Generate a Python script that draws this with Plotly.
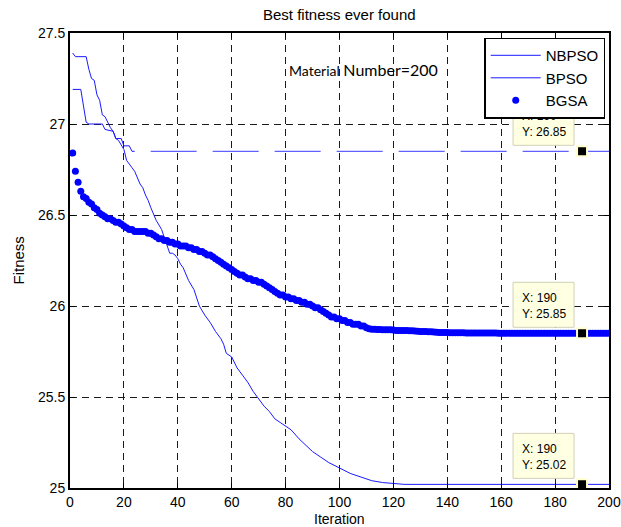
import plotly.graph_objects as go

# ---------------- data ----------------
iterations = list(range(1, 201))

bgsa = [
    26.84, 26.74, 26.68, 26.63, 26.60, 26.59, 26.57, 26.56, 26.54, 26.53,
    26.51, 26.50, 26.49, 26.48, 26.48, 26.47, 26.46, 26.46, 26.45, 26.44,
    26.43, 26.42, 26.42, 26.41, 26.41, 26.41, 26.41, 26.41, 26.40, 26.40,
    26.39, 26.38, 26.37, 26.37, 26.36, 26.36, 26.35, 26.35, 26.34, 26.34,
    26.33, 26.33, 26.33, 26.32, 26.32, 26.31, 26.31, 26.30, 26.30, 26.29,
    26.28, 26.28, 26.27, 26.26, 26.25, 26.24, 26.23, 26.22, 26.21, 26.20,
    26.19, 26.18, 26.17, 26.17, 26.16, 26.15, 26.15, 26.14, 26.14, 26.13,
    26.13, 26.12, 26.11, 26.10, 26.09, 26.08, 26.07, 26.06, 26.06, 26.05,
    26.05, 26.04, 26.04, 26.03, 26.03, 26.02, 26.02, 26.01, 26.01, 26.00,
    25.99, 25.99, 25.98, 25.97, 25.96, 25.95, 25.94, 25.94, 25.93, 25.93,
    25.92, 25.92, 25.91, 25.91, 25.90, 25.90, 25.90, 25.89, 25.89, 25.88,
    25.875, 25.872, 25.872, 25.871, 25.871, 25.870, 25.870, 25.870, 25.869, 25.868,
    25.866, 25.866, 25.865, 25.865, 25.865, 25.864, 25.864, 25.863, 25.861, 25.860,
    25.860, 25.860, 25.859, 25.858, 25.857, 25.856, 25.855, 25.854, 25.854, 25.854,
    25.853, 25.853, 25.853, 25.853, 25.853, 25.853, 25.852, 25.852, 25.852, 25.852,
    25.852, 25.852, 25.852, 25.852, 25.851, 25.851, 25.851, 25.851, 25.850, 25.850,
    25.850, 25.850, 25.850, 25.850, 25.850, 25.850, 25.850, 25.850, 25.850, 25.850,
    25.850, 25.850, 25.850, 25.850, 25.850, 25.850, 25.850, 25.850, 25.850, 25.850,
    25.850, 25.850, 25.850, 25.850, 25.850, 25.850, 25.850, 25.850, 25.850, 25.850,
    25.850, 25.850, 25.850, 25.850, 25.850, 25.850, 25.850, 25.850, 25.850, 25.850,
]

nbpso_x = [1, 2, 6, 7, 8, 9, 10, 11, 12, 13, 15, 16, 17, 18, 20, 21, 23, 24, 26, 27,
           28, 29, 30, 32, 34, 35, 36, 37, 38, 39, 40, 41, 42, 44, 46, 48, 50, 52, 54, 56,
           57, 58, 60, 62, 64, 66, 68, 70, 72, 74, 76, 78, 80, 82, 85, 88, 90, 93, 96, 100,
           104, 108, 112, 116, 120, 124, 200]
nbpso_y = [27.39, 27.37, 27.37, 27.30, 27.25, 27.24, 27.16, 27.13, 27.05, 27.04,
           26.98, 26.96, 26.92, 26.91, 26.86, 26.80, 26.76, 26.74, 26.67, 26.65,
           26.61, 26.58, 26.54, 26.47, 26.42, 26.38, 26.34, 26.29, 26.29, 26.28,
           26.26, 26.23, 26.21, 26.14, 26.09, 26.00, 25.95, 25.91, 25.86, 25.82,
           25.79, 25.74, 25.72, 25.66, 25.62, 25.58, 25.53, 25.49, 25.45, 25.42,
           25.38, 25.36, 25.34, 25.32, 25.27, 25.23, 25.20, 25.17, 25.14, 25.11,
           25.08, 25.06, 25.04, 25.03, 25.025, 25.02, 25.02]

bpso_x = [1, 4, 6, 7, 12, 13, 16, 17, 19, 20, 22, 23, 24, 200]
bpso_y = [27.19, 27.19, 27.01, 27.00, 27.00, 26.97, 26.96, 26.92, 26.92, 26.88,
          26.88, 26.85, 26.85, 26.85]

series_names = ["NBPSO", "BPSO", "BGSA"]
tip_iteration = 190

x_ticks = [0, 20, 40, 60, 80, 100, 120, 140, 160, 180, 200]
y_ticks = [25, 25.5, 26, 26.5, 27, 27.5]

X_RANGE = [0, 200]
Y_RANGE = [25, 27.5]

# ---------------- figure ----------------
LINE_BLUE = "#1a1aff"
FONT = "Liberation Sans, Arial, sans-serif"
W, H = 621, 527
M = dict(l=70, r=12, t=33, b=39)
plot_w = W - M["l"] - M["r"]
plot_h = H - M["t"] - M["b"]
dx_per_px = (X_RANGE[1] - X_RANGE[0]) / plot_w
dy_per_px = (Y_RANGE[1] - Y_RANGE[0]) / plot_h

fig = go.Figure()

fig.add_trace(go.Scatter(
    x=nbpso_x, y=nbpso_y, mode="lines", name=series_names[0],
    line=dict(color=LINE_BLUE, width=1), hoverinfo="skip"))

# BPSO: solid descent, then dashed plateau
split = bpso_x.index(24)
fig.add_trace(go.Scatter(
    x=bpso_x[:split + 1], y=bpso_y[:split + 1], mode="lines", name=series_names[1],
    line=dict(color=LINE_BLUE, width=1), hoverinfo="skip", legendgroup="bpso"))
fig.add_trace(go.Scatter(
    x=bpso_x[split:], y=bpso_y[split:], mode="lines", name=series_names[1],
    line=dict(color="#3a3aff", width=1, dash="0px,16px,46px,0px"),
    hoverinfo="skip", legendgroup="bpso", showlegend=False))

fig.add_trace(go.Scatter(
    x=iterations, y=bgsa, mode="markers", name=series_names[2],
    marker=dict(color="blue", size=7, line=dict(width=0)), hoverinfo="skip"))

# data tips at iteration 190
def value_at(xs, ys, xq):
    val = ys[0]
    for xv, yv in zip(xs, ys):
        if xv <= xq:
            val = yv
    return val

tip_vals = [
    value_at(bpso_x, bpso_y, tip_iteration),
    value_at(iterations, bgsa, tip_iteration),
    value_at(nbpso_x, nbpso_y, tip_iteration),
]

for v in tip_vals:
    fig.add_shape(
        type="rect", xref="x", yref="y", layer="above",
        x0=tip_iteration - 69 * dx_per_px, x1=tip_iteration - 8 * dx_per_px,
        y0=v + 6 * dy_per_px, y1=v + 51 * dy_per_px,
        fillcolor="#ffffe1", line=dict(color="#d0d0b8", width=1),
        label=dict(text=f"X: {tip_iteration}<br>Y: {v:.2f}",
                   textposition="middle left", padding=6,
                   font=dict(family=FONT, size=12, color="black")))

fig.add_trace(go.Scatter(
    x=[tip_iteration] * len(tip_vals), y=tip_vals, mode="markers",
    marker=dict(symbol="square", size=10, color="black",
                line=dict(color="#ffffd0", width=2)),
    showlegend=False, hoverinfo="skip"))

# texts
fig.add_annotation(
    x=0.5, y=1, xref="paper", yref="paper", xanchor="center", yanchor="middle",
    yshift=19, text="Best fitness ever found", showarrow=False,
    font=dict(family=FONT, size=15, color="black"))
fig.add_annotation(
    x=0.402, y=0.92, xref="paper", yref="paper", xanchor="left", yanchor="middle",
    text="Material <span style='font-size:16px'>Number=200</span>",
    showarrow=False, font=dict(family="Lato, Open Sans, sans-serif", size=14, color="black"))
fig.add_annotation(
    x=0.5, y=0, xref="paper", yref="paper", xanchor="center", yanchor="middle",
    yshift=-31, text="Iteration", showarrow=False,
    font=dict(family=FONT, size=14, color="black"))
fig.add_annotation(
    x=0, y=0.5, xref="paper", yref="paper", xanchor="center", yanchor="middle",
    xshift=-52, textangle=-90, text="Fitness", showarrow=False,
    font=dict(family=FONT, size=15, color="black"))

grid = dict(showgrid=True, gridcolor="#1a1a1a", gridwidth=1, griddash="7px,5px")

fig.update_layout(
    width=W, height=H,
    margin=dict(**M, autoexpand=False),
    paper_bgcolor="white", plot_bgcolor="white",
    font=dict(family=FONT, size=14, color="black"),
    showlegend=True,
    legend=dict(x=0.993, y=0.99, xanchor="right", yanchor="top",
                bgcolor="white", bordercolor="black", borderwidth=1.5,
                font=dict(size=15), tracegroupgap=0, itemwidth=50),
    xaxis=dict(range=X_RANGE, tickvals=x_ticks, ticks="inside", ticklen=5,
               tickcolor="black", showline=True, linecolor="black", linewidth=2,
               mirror="ticks", zeroline=False, automargin=False, **grid),
    yaxis=dict(range=Y_RANGE, tickvals=y_ticks, ticks="inside", ticklen=5,
               tickcolor="black", showline=True, linecolor="black", linewidth=2,
               mirror="ticks", zeroline=False, automargin=False, **grid),
)

fig.write_html("out.html", config={"displayModeBar": False},
               post_script="document.body.style.margin='0px';")
